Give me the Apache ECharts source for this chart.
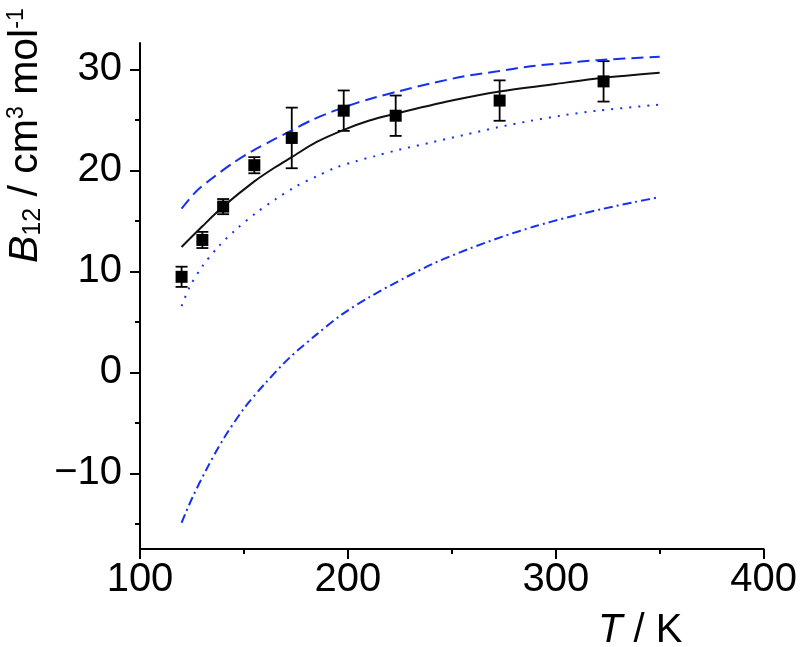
<!DOCTYPE html>
<html>
<head>
<meta charset="utf-8">
<script src="https://cdn.jsdelivr.net/npm/echarts@6/dist/echarts.min.js"></script>
<style>html,body{margin:0;padding:0;background:#fff}#c{width:800px;height:647px}</style>
</head>
<body>
<div id="c"></div>
<script>
// Experimental points
var expT = [120, 130, 140, 155, 173, 198, 223, 273, 323];
var expB = [9.45, 13.1, 16.4, 20.5, 23.2, 25.9, 25.4, 26.9, 28.8];
var expErr = [1.0, 0.8, 0.75, 0.8, 3.0, 2.0, 2.0, 2.0, 2.0];

// Solid black curve
var solidT = [120, 130, 140, 155, 165, 173, 185, 198, 210, 223, 250, 273, 300, 323, 350];
var solidB = [12.4, 14.45, 16.4, 18.9, 20.3, 21.3, 22.8, 24.0, 24.9, 25.6, 26.9, 27.8, 28.55, 29.15, 29.65];

// Blue dashed curve
var dashT = [120, 127, 135, 145, 154, 164, 173, 183, 193, 204, 213, 225, 240, 256, 272, 288, 304, 320, 350];
var dashB = [16.2, 17.9, 19.25, 20.75, 21.9, 23.0, 23.95, 25.0, 25.85, 26.65, 27.2, 27.85, 28.6, 29.3, 29.8, 30.3, 30.6, 30.9, 31.25];

// Blue dotted curve
var dotT = [120, 124, 130, 138, 146, 156, 165, 175, 185, 194, 204, 213, 225, 240, 256, 272, 288, 304, 320, 350];
var dotB = [6.55, 8.5, 10.5, 12.5, 14.1, 15.8, 17.1, 18.4, 19.4, 20.25, 20.9, 21.4, 22.05, 22.75, 23.5, 24.25, 24.9, 25.45, 25.9, 26.5];

// Blue dash-dot curve
var ddT = [120, 125, 132, 140, 150, 160, 172, 185, 197, 210, 226, 242, 258, 274, 290, 306, 322, 338, 350];
var ddB = [-14.9, -12.5, -9.6, -6.65, -3.6, -1.15, 1.45, 3.75, 5.7, 7.4, 9.2, 10.85, 12.2, 13.4, 14.45, 15.35, 16.15, 16.85, 17.35];

// Axis ticks
var xTicks = [100, 200, 300, 400];
var yMajor = [-10, 0, 10, 20, 30];
var yMinor = [-15, -5, 5, 15, 25];

var FONT = "'Liberation Sans', Arial, sans-serif";
var BLUE = '#1530f0';

function pairs(xs, ys) { return xs.map(function (x, i) { return [x, ys[i]]; }); }
function fmt(v) { return v < 0 ? '\u2212' + Math.abs(v) : String(v); }

var chart = echarts.init(document.getElementById('c'), null, { renderer: 'canvas' });

var errData = expT.map(function (t, i) { return [t, expB[i] - expErr[i], expB[i] + expErr[i]]; });

var option = {
  animation: false,
  backgroundColor: '#ffffff',
  grid: { left: 140, right: 33, top: 43, bottom: 98, containLabel: false },
  xAxis: {
    type: 'value', min: 100, max: 400, interval: 100,
    axisLine: { show: true, onZero: false, lineStyle: { color: '#000', width: 2 } },
    axisTick: { show: true, length: 10, lineStyle: { color: '#000', width: 2 } },
    minorTick: { show: true, splitNumber: 2, length: 5, lineStyle: { color: '#000', width: 2 } },
    axisLabel: { fontSize: 40, fontFamily: FONT, color: '#000', margin: 11 },
    splitLine: { show: false }
  },
  yAxis: [{
    type: 'value', min: -17.5, max: 32.6,
    axisLine: { show: true, onZero: false, lineStyle: { color: '#000', width: 2 } },
    axisTick: { show: true, length: 10, customValues: yMajor, lineStyle: { color: '#000', width: 2 } },
    axisLabel: { fontSize: 40, fontFamily: FONT, color: '#000', margin: 18, customValues: yMajor, formatter: fmt },
    splitLine: { show: false }
  }, {
    type: 'value', min: -17.5, max: 32.6, position: 'left',
    axisLine: { show: false, onZero: false },
    axisTick: { show: true, length: 5, customValues: yMinor, lineStyle: { color: '#000', width: 2 } },
    axisLabel: { show: false },
    splitLine: { show: false }
  }],
  series: [
    { type: 'line', data: pairs(ddT, ddB), smooth: 0.3, showSymbol: false, lineStyle: { color: BLUE, width: 2, type: [9, 4, 2, 4] } },
    { type: 'line', data: pairs(dotT, dotB), smooth: 0.3, showSymbol: false, lineStyle: { color: BLUE, width: 2, type: [2, 7] } },
    { type: 'line', data: pairs(dashT, dashB), smooth: 0.3, showSymbol: false, lineStyle: { color: BLUE, width: 2, type: [12, 6] } },
    { type: 'line', data: pairs(solidT, solidB), smooth: 0.3, showSymbol: false, lineStyle: { color: '#111', width: 2, type: 'solid' } },
    {
      type: 'custom', data: errData, encode: { x: 0, y: [1, 2] },
      renderItem: function (params, api) {
        var x = api.value(0);
        var top = api.coord([x, api.value(2)]);
        var bot = api.coord([x, api.value(1)]);
        var w = 6;
        var st = { stroke: '#000', lineWidth: 1.8 };
        return {
          type: 'group', children: [
            { type: 'line', shape: { x1: top[0], y1: top[1], x2: bot[0], y2: bot[1] }, style: st },
            { type: 'line', shape: { x1: top[0] - w, y1: top[1], x2: top[0] + w, y2: top[1] }, style: st },
            { type: 'line', shape: { x1: bot[0] - w, y1: bot[1], x2: bot[0] + w, y2: bot[1] }, style: st }
          ]
        };
      },
      z: 3
    },
    { type: 'scatter', data: pairs(expT, expB), symbol: 'rect', symbolSize: 12, itemStyle: { color: '#000', opacity: 1 }, z: 4 }
  ],
  graphic: [
    {
      type: 'text', x: 598, y: 611,
      style: {
        text: '{i|T}{n| / K}', textAlign: 'left', textVerticalAlign: 'top',
        rich: {
          i: { fontSize: 40, fontFamily: FONT, fontStyle: 'italic', fill: '#000' },
          n: { fontSize: 40, fontFamily: FONT, fill: '#000' }
        }
      }
    },
    {
      type: 'text', x: 46, y: 263, rotation: Math.PI / 2,
      style: {
        text: '{i|B}{sub|12}{n| / cm}{sup|3}{n| mol}{sup|-1}', textAlign: 'left', textVerticalAlign: 'bottom',
        rich: {
          i: { fontSize: 41, fontFamily: FONT, fontStyle: 'italic', fill: '#000' },
          n: { fontSize: 41, fontFamily: FONT, fill: '#000' },
          sub: { fontSize: 25, fontFamily: FONT, fill: '#000', verticalAlign: 'bottom' },
          sup: { fontSize: 23, fontFamily: FONT, fill: '#000', verticalAlign: 'top', lineHeight: 10 }
        }
      }
    }
  ]
};
chart.setOption(option);
</script>
</body>
</html>
